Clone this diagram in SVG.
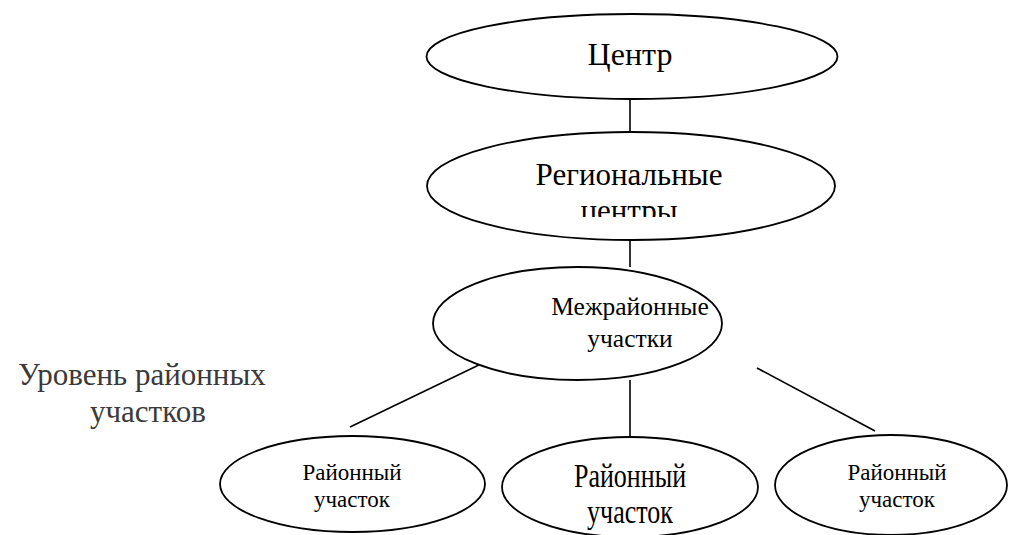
<svg xmlns="http://www.w3.org/2000/svg" width="1010" height="535" viewBox="0 0 1010 535">
  <style>
    .node { fill: #ffffff; stroke: #000000; stroke-width: 1.8; }
    .edge { stroke: #000000; stroke-width: 1.6; fill: none; }
    text { font-family: "Liberation Serif", "Times New Roman", serif; fill: #000000; text-anchor: middle; }
    .note { fill: #3a3a3a; text-anchor: start; font-size: 31px; }
  </style>
  <defs>
    <!-- the second line of the regional label is cut off by its text box -->
    <clipPath id="regClip">
      <rect x="430" y="140" width="400" height="77"/>
    </clipPath>
  </defs>
  <rect width="1010" height="535" fill="#ffffff"/>

  <g id="connectors">
    <line class="edge" x1="630" y1="99" x2="630" y2="132"/>
    <line class="edge" x1="630" y1="240" x2="630" y2="267"/>
    <line class="edge" x1="630" y1="380" x2="630" y2="437"/>
    <line class="edge" x1="483" y1="363" x2="350" y2="427"/>
    <line class="edge" x1="757" y1="368" x2="875" y2="431"/>
  </g>

  <g id="center">
    <ellipse class="node" cx="632" cy="56.5" rx="205.5" ry="42.5"/>
    <text x="630" y="65" font-size="32">Центр</text>
  </g>

  <g id="regional-centers">
    <ellipse class="node" cx="631" cy="186" rx="204" ry="54"/>
    <g clip-path="url(#regClip)">
      <text x="629" y="185" font-size="31">Региональные</text>
      <text x="629" y="221" font-size="31">центры</text>
    </g>
  </g>

  <g id="interdistrict">
    <ellipse class="node" cx="577.5" cy="323.5" rx="144.5" ry="56.5"/>
    <text x="630" y="315" font-size="25.5">Межрайонные</text>
    <text x="630" y="347" font-size="25.5">участки</text>
  </g>

  <g id="level-label">
    <text class="note" x="18" y="385">Уровень районных</text>
    <text class="note" x="90" y="422">участков</text>
  </g>

  <g id="district-left">
    <ellipse class="node" cx="352.5" cy="484" rx="132.5" ry="48"/>
    <text x="352" y="480" font-size="23">Районный</text>
    <text x="352" y="507" font-size="23">участок</text>
  </g>

  <g id="district-middle">
    <ellipse class="node" cx="630" cy="487" rx="128" ry="50"/>
    <g transform="translate(630 0) scale(1 1.3)">
      <text x="0" y="374.6" font-size="26">Районный</text>
      <text x="0" y="402.3" font-size="26">участок</text>
    </g>
  </g>

  <g id="district-right">
    <ellipse class="node" cx="891" cy="485" rx="116" ry="50"/>
    <text x="897" y="480" font-size="23">Районный</text>
    <text x="897" y="507" font-size="23">участок</text>
  </g>
</svg>
